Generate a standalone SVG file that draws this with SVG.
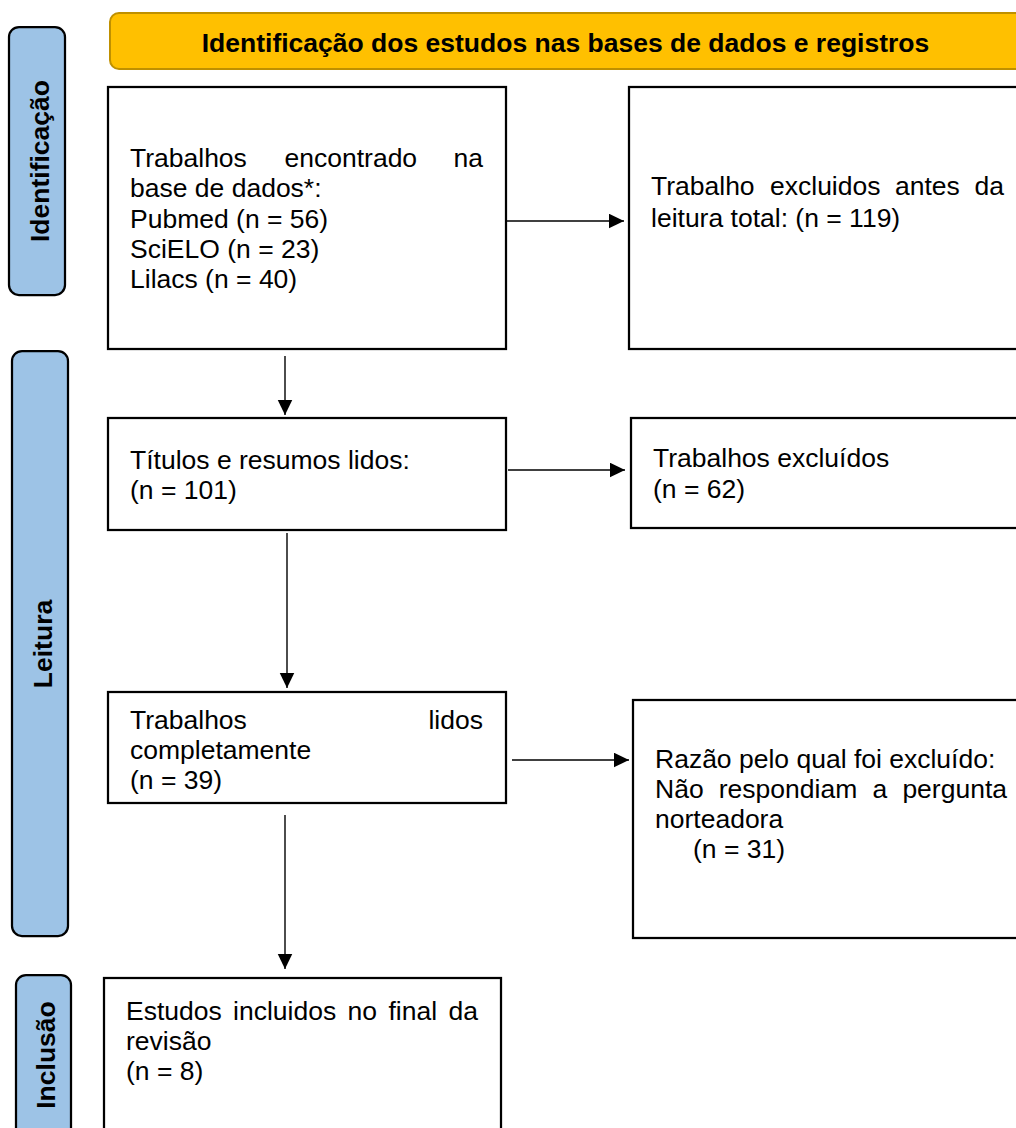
<svg xmlns="http://www.w3.org/2000/svg" width="1016" height="1128" viewBox="0 0 1016 1128">
<style>
.box{fill:#fff;stroke:#000;stroke-width:2.25}
.lab{fill:#9DC3E6;stroke:#000;stroke-width:2.25}
.t{font-family:"Liberation Sans",Arial,sans-serif;font-size:26.5px;fill:#000}
.b{font-family:"Liberation Sans",Arial,sans-serif;font-size:26.5px;font-weight:bold;fill:#000}
.c{fill:none;stroke:#000;stroke-width:1.4}
</style>
<defs>
<marker id="ah" markerUnits="userSpaceOnUse" markerWidth="17" markerHeight="16" refX="15.5" refY="7.5" orient="auto">
<path d="M0,0 L15.5,7.5 L0,15 z" fill="#000"/>
</marker>
</defs>
<rect width="1016" height="1128" fill="#fff"/>

<g id="header">
<rect x="110" y="13" width="930" height="56" rx="9" fill="#FFC000" stroke="#BF9000" stroke-width="2"/>
<text class="b" x="565.5" y="52" text-anchor="middle">Identificação dos estudos nas bases de dados e registros</text>
</g>

<g id="lab-identificacao">
<rect class="lab" x="9" y="27" width="56" height="268" rx="10"/>
<text class="b" transform="translate(49,161) rotate(-90)" text-anchor="middle">Identificação</text>
</g>
<g id="lab-leitura">
<rect class="lab" x="12" y="351" width="56" height="585" rx="10"/>
<text class="b" transform="translate(52,644) rotate(-90)" text-anchor="middle">Leitura</text>
</g>
<g id="lab-inclusao">
<rect class="lab" x="16" y="975" width="55" height="200" rx="10"/>
<text class="b" transform="translate(55,1055) rotate(-90)" text-anchor="middle">Inclusão</text>
</g>

<g id="box-encontrados">
<rect class="box" x="108" y="87" width="398" height="262"/>
<text class="t" y="167"><tspan x="130">Trabalhos</tspan><tspan x="284.5">encontrado</tspan></text>
<text class="t" x="483" y="167" text-anchor="end">na</text>
<text class="t" x="130" y="197">base de dados*:</text>
<text class="t" x="130" y="228">Pubmed (n = 56)</text>
<text class="t" x="130" y="258">SciELO (n = 23)</text>
<text class="t" x="130" y="288">Lilacs (n = 40)</text>
</g>

<g id="box-excluidos-antes">
<rect class="box" x="629" y="87" width="400" height="262"/>
<text class="t" y="195"><tspan x="651">Trabalho</tspan><tspan x="770">excluidos</tspan><tspan x="895">antes</tspan></text>
<text class="t" x="1004" y="195" text-anchor="end">da</text>
<text class="t" x="651" y="227">leitura total: (n = 119)</text>
</g>

<g id="box-titulos">
<rect class="box" x="108" y="418" width="398" height="112"/>
<text class="t" x="130" y="469">Títulos e resumos lidos:</text>
<text class="t" x="130" y="499">(n = 101)</text>
</g>

<g id="box-excluidos">
<rect class="box" x="631" y="418" width="400" height="110"/>
<text class="t" x="653" y="467">Trabalhos excluídos</text>
<text class="t" x="653" y="498">(n = 62)</text>
</g>

<g id="box-lidos">
<rect class="box" x="108" y="692" width="398" height="111"/>
<text class="t" x="130" y="729">Trabalhos</text>
<text class="t" x="483" y="729" text-anchor="end">lidos</text>
<text class="t" x="130" y="759">completamente</text>
<text class="t" x="130" y="789">(n = 39)</text>
</g>

<g id="box-razao">
<rect class="box" x="633" y="700" width="400" height="238"/>
<text class="t" x="655" y="768">Razão pelo qual foi excluído:</text>
<text class="t" y="798"><tspan x="655">Não</tspan><tspan x="718.8">respondiam</tspan><tspan x="872.4">a</tspan></text>
<text class="t" x="1007" y="798" text-anchor="end">pergunta</text>
<text class="t" x="655" y="828">norteadora</text>
<text class="t" x="693" y="858">(n = 31)</text>
</g>

<g id="box-incluidos">
<rect class="box" x="104" y="978" width="397" height="170"/>
<text class="t" y="1020"><tspan x="126">Estudos</tspan><tspan x="233.1">incluidos</tspan><tspan x="347.6">no</tspan><tspan x="388.5">final</tspan></text>
<text class="t" x="478" y="1020" text-anchor="end">da</text>
<text class="t" x="126" y="1050">revisão</text>
<text class="t" x="126" y="1080">(n = 8)</text>
</g>

<g id="connectors">
<path class="c" d="M507,221 L624,221" marker-end="url(#ah)"/>
<path class="c" d="M285,356 L285,415" marker-end="url(#ah)"/>
<path class="c" d="M508,470 L625,470" marker-end="url(#ah)"/>
<path class="c" d="M287,533 L287,688" marker-end="url(#ah)"/>
<path class="c" d="M512,760 L629,760" marker-end="url(#ah)"/>
<path class="c" d="M285,815 L285,969" marker-end="url(#ah)"/>
</g>
</svg>
